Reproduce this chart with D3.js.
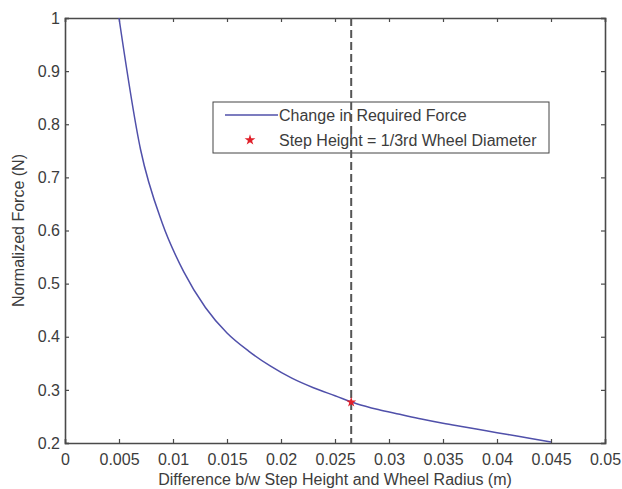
<!DOCTYPE html>
<html>
<head>
<meta charset="utf-8">
<script src="https://cdn.jsdelivr.net/npm/d3@7"></script>
<style>
  body { margin: 0; background: #fff; }
  text { font-family: Arial, "Liberation Sans", sans-serif; fill: #3c3c3c; }
</style>
</head>
<body>
<div id="chart"></div>
<script>
// values
var diffs = [0.005, 0.007, 0.009, 0.011, 0.013, 0.015, 0.017, 0.019, 0.021, 0.023, 0.025,
             0.027, 0.029, 0.031, 0.033, 0.035, 0.037, 0.039, 0.041, 0.043, 0.045];
var forces = [1.0, 0.752, 0.614, 0.522, 0.455, 0.407, 0.373, 0.345, 0.322, 0.304, 0.289,
              0.274, 0.263, 0.254, 0.245, 0.237, 0.230, 0.223, 0.216, 0.209, 0.202];
var stepX = [0.0265];
var stepY = [0.277];
var xTicks = [0, 0.005, 0.01, 0.015, 0.02, 0.025, 0.03, 0.035, 0.04, 0.045, 0.05];
var yTicks = [0.2, 0.3, 0.4, 0.5, 0.6, 0.7, 0.8, 0.9, 1];
var legendLabels = ["Change in Required Force", "Step Height = 1/3rd Wheel Diameter"];

var W = 622, H = 489;
var margin = { top: 18, right: 17, bottom: 46, left: 65 };
var width = W - margin.left - margin.right,
    height = H - margin.top - margin.bottom;

var svg = d3.select("#chart").append("svg")
    .attr("width", W)
    .attr("height", H);

var g = svg.append("g")
    .attr("transform", "translate(" + margin.left + "," + margin.top + ")");

var x = d3.scaleLinear().domain([0, 0.05]).range([0, width]);
var y = d3.scaleLinear().domain([0.2, 1]).range([height, 0]);

var fmt = function(d) { return d === 0 ? "0" : String(+d.toFixed(3)); };
var axisColor = "#4a4a4a";

// axes, ticks pointing inwards, also on top and right
var xAxis = g.append("g").attr("transform", "translate(0," + height + ")")
    .call(d3.axisBottom(x).tickValues(xTicks).tickSize(-4).tickPadding(11).tickFormat(fmt));
var yAxis = g.append("g")
    .call(d3.axisLeft(y).tickValues(yTicks).tickSize(-4).tickPadding(5).tickFormat(fmt));
var xTop = g.append("g")
    .call(d3.axisTop(x).tickValues(xTicks).tickSize(-4).tickFormat(""));
var yRight = g.append("g").attr("transform", "translate(" + width + ",0)")
    .call(d3.axisRight(y).tickValues(yTicks).tickSize(-4).tickFormat(""));

[xAxis, yAxis, xTop, yRight].forEach(function(a) {
    a.select(".domain").attr("stroke", axisColor).attr("stroke-width", 1.6);
    a.selectAll(".tick line").attr("stroke", axisColor).attr("stroke-width", 1.2);
    a.selectAll(".tick text").style("font-size", "16px").attr("fill", "#3c3c3c");
});

// curve
var pts = diffs.map(function(d, i) { return [d, forces[i]]; });
g.append("path")
    .datum(pts)
    .attr("fill", "none")
    .attr("stroke", "#5050aa")
    .attr("stroke-width", 1.5)
    .attr("d", d3.line()
        .curve(d3.curveMonotoneX)
        .x(function(d) { return x(d[0]); })
        .y(function(d) { return y(d[1]); }));

// legend
var lg = g.append("g").attr("transform", "translate(" + (213 - margin.left) + "," + (102 - margin.top) + ")");
lg.append("rect")
    .attr("width", 336).attr("height", 51)
    .attr("fill", "#fff")
    .attr("stroke", "#444").attr("stroke-width", 1);
lg.append("line")
    .attr("x1", 12).attr("x2", 65).attr("y1", 13).attr("y2", 13)
    .attr("stroke", "#5050aa").attr("stroke-width", 1.5);
lg.append("path")
    .attr("transform", "translate(37,38)")
    .attr("d", d3.symbol().type(d3.symbolStar).size(36)())
    .attr("fill", "#e0202a");
lg.selectAll("text.lab")
    .data(legendLabels)
    .enter().append("text")
    .attr("class", "lab")
    .attr("x", 66)
    .attr("y", function(d, i) { return 13 + i * 25; })
    .attr("dy", "0.35em")
    .style("font-size", "16px")
    .text(function(d) { return d; });

// dashed vertical line at step height
g.selectAll("line.step")
    .data(stepX)
    .enter().append("line")
    .attr("class", "step")
    .attr("x1", x).attr("x2", x)
    .attr("y1", y(1)).attr("y2", y(0.2))
    .attr("stroke", "#555")
    .attr("stroke-width", 2)
    .attr("stroke-dasharray", "8,4");

// marker
g.selectAll("path.mark")
    .data(stepX)
    .enter().append("path")
    .attr("class", "mark")
    .attr("transform", function(d, i) { return "translate(" + x(d) + "," + y(stepY[i]) + ")"; })
    .attr("d", d3.symbol().type(d3.symbolStar).size(32)())
    .attr("fill", "#e0202a");

// axis titles
svg.append("text")
    .attr("x", margin.left + width / 2)
    .attr("y", 485)
    .attr("text-anchor", "middle")
    .style("font-size", "16px")
    .text("Difference b/w Step Height and Wheel Radius (m)");

svg.append("text")
    .attr("transform", "translate(24," + (margin.top + height / 2) + ") rotate(-90)")
    .attr("text-anchor", "middle")
    .style("font-size", "16px")
    .text("Normalized Force (N)");
</script>
</body>
</html>
